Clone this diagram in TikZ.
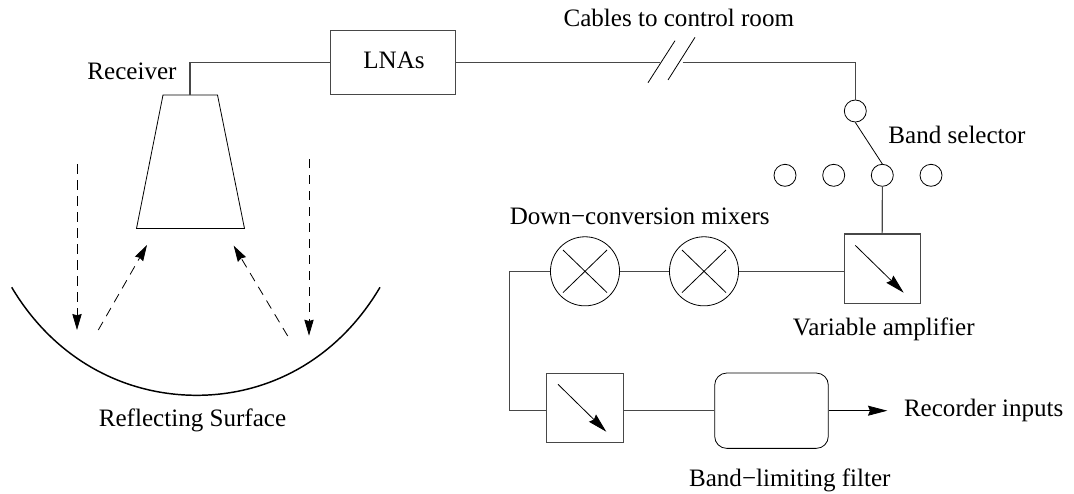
\documentclass[tikz,border=0pt]{standalone}
\usepackage{fontspec}
\setmainfont{Liberation Serif}
\usetikzlibrary{arrows.meta,shapes.geometric}
\tikzset{
  x=0.75pt,y=-0.75pt,
  wire/.style={draw=black!72,line width=0.8pt},
  thin line/.style={draw=black,line width=0.6pt},
  tip/.style={-{Stealth[length=12pt,width=7pt,inset=1pt]}},
  bigtip/.style={-{Stealth[length=14.5pt,width=7.5pt,inset=1.5pt]}},
  ray/.style={thin line,tip,dash pattern=on 7pt off 5pt},
  lab/.style={anchor=base,inner sep=0pt,font=\fontsize{18.8pt}{22pt}\selectfont},
  boxed/.style={draw=black!72,line width=0.8pt,rectangle,minimum width=57.2pt,minimum height=52.4pt,inner sep=0pt},
  port/.style={draw=black,line width=0.6pt,circle,minimum size=16.5pt,inner sep=0pt},
  mixer/.style={draw=black,line width=0.6pt,circle,minimum size=51.8pt,inner sep=0pt},
}
\begin{document}
\begin{tikzpicture}
\useasboundingbox (0,0) rectangle (1074,493);
% dish and rays
\draw[line width=1.1pt,black] (11.7,287.3) .. controls (55,360) and (125,395.3) .. (196.7,395.3) .. controls (268,395.3) and (337,360) .. (380,287.3);
\coordinate (rtl) at (163,95);
\coordinate (rtr) at (217.5,95);
\coordinate (rbl) at (136.5,228.5);
\coordinate (rbr) at (244.5,228.5);
\coordinate (rtop) at (190,95);
\draw[thin line] (rtl) -- (rtr) -- (rbr) -- (rbl) -- cycle;
\coordinate (r1a) at (77,164.3); \coordinate (r1b) at (77,330);
\coordinate (r2a) at (309,159); \coordinate (r2b) at (309,335.7);
\coordinate (r3a) at (98.3,330); \coordinate (r3b) at (147,245);
\coordinate (r4a) at (287.7,336); \coordinate (r4b) at (233.7,245.7);
\draw[ray] (r1a) -- (r1b);
\draw[ray] (r2a) -- (r2b);
\draw[ray] (r3a) -- (r3b);
\draw[ray] (r4a) -- (r4b);
% blocks
\node[boxed,minimum width=93.5pt,minimum height=48pt] (lna) at (393,62.7) {};
\node[lab] (lnat) at (394,68.3) {LNAs};
\node[port] (sw) at (855.3,111) {};
\node[port] (p1) at (785,175.3) {};
\node[port] (p2) at (833.7,175.3) {};
\node[port] (p3) at (882.3,175.3) {};
\node[port] (p4) at (931,175.3) {};
\node[boxed] (amp) at (882.2,268.9) {};
\node[mixer] (m1) at (585,271.3) {};
\node[mixer] (m2) at (704,271.3) {};
\node[boxed] (att) at (585,408) {};
\node[draw=black,line width=0.6pt,rectangle,rounded corners=9pt,minimum width=85.2pt,minimum height=56.5pt,inner sep=0pt] (flt) at (771.5,410.7) {};
% cross marks
\foreach \m in {m1,m2}{
  \draw[thin line] ([shift={(-22,-21.3)}]\m.center) -- ([shift={(22,21.3)}]\m.center);
  \draw[thin line] ([shift={(-22,21.3)}]\m.center) -- ([shift={(22,-21.3)}]\m.center);
}
% wires
\coordinate (cut1) at (660,62.7);
\coordinate (cut2) at (682.7,62.7);
\coordinate (corner) at (855.3,62.7);
\coordinate (corner1) at (190,62.7);
\coordinate (corner2) at (509.3,271.3);
\coordinate (corner3) at (509.3,410.7);
\coordinate (out) at (887.3,410.7);
\draw[wire] (rtop) -- (corner1) -- (lna.west);
\draw[wire] (lna.east) -- (cut1);
\draw[wire] (cut2) -- (corner) -- (sw.north);
\draw[thin line] (648,82.7) -- (675,40.7);
\draw[thin line] (668,80) -- (695,37.3);
\draw[thin line] (sw.south) -- (p3.north);
\draw[wire] (p3.south) -- (amp.north);
\draw[wire] (amp.west |- m2.east) -- (m2.east);
\draw[wire] (m2.west) -- (m1.east);
\draw[wire] (m1.west) -- (corner2) -- (corner3) -- (att.west |- corner3);
\draw[wire] (att.east |- corner3) -- (flt.west);
\draw[thin line,bigtip] (flt.east) -- (out);
% gain arrows
\draw[thin line,bigtip] ([shift={(-27,-23.6)}]amp.center) -- ([shift={(21.5,23.8)}]amp.center);
\draw[thin line,bigtip] ([shift={(-27,-23.7)}]att.center) -- ([shift={(21.3,23.7)}]att.center);
% labels
\node[lab] (t1) at (132,79.3) {Receiver};
\node[lab] (t2) at (192.5,426.7) {Reflecting Surface};
\node[lab] (t3) at (678.8,26) {Cables to control room};
\node[lab] (t4) at (957,143) {Band selector};
\node[lab] (t5) at (639.7,224) {Down−conversion mixers};
\node[lab] (t6) at (883.8,335.3) {Variable amplifier};
\node[lab] (t7) at (983.7,416) {Recorder inputs};
\node[lab] (t8) at (789.8,486) {Band−limiting filter};
\end{tikzpicture}
\end{document}
